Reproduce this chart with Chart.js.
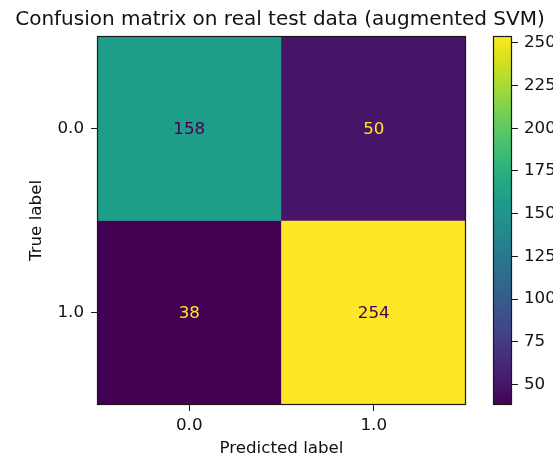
<!DOCTYPE html>
<html>
<head>
<meta charset="utf-8">
<script src="https://cdn.jsdelivr.net/npm/chart.js@4/dist/chart.umd.min.js"></script>
<style>
  html, body { margin: 0; padding: 0; background: #fff; overflow: hidden; }
  #wrap { position: relative; width: 553px; height: 461px; overflow: hidden; }
  #main { position: absolute; left: 0; top: 0; }
  #cbar { position: absolute; left: 470px; top: 0; }
</style>
</head>
<body>
<div id="wrap">
  <canvas id="main" width="560" height="461"></canvas>
  <canvas id="cbar" width="83" height="461"></canvas>
</div>
<script>
// Confusion matrix counts, rows = true label, columns = predicted label
const predictedLabels = ['0.0', '1.0'];
const trueLabels = ['0.0', '1.0'];
const rowTrue0 = [158, 50];
const rowTrue1 = [38, 254];
const colorbarTicks = [50, 75, 100, 125, 150, 175, 200, 225, 250];

const rows = [rowTrue0, rowTrue1];
const allValues = rows.flat();
const vmin = Math.min(...allValues);
const vmax = Math.max(...allValues);

// viridis colormap sampled every 0.05
const VIRIDIS = ['#440154','#471365','#482475','#463480','#414487','#3b528b','#355f8d','#2f6c8e',
  '#2a788e','#25848e','#21918c','#1e9c89','#22a884','#2fb47c','#44bf70','#5ec962','#7ad151',
  '#9bd93c','#bddf26','#dfe318','#fde725'];
function hexToRgb(h) { return [1, 3, 5].map(i => parseInt(h.slice(i, i + 2), 16)); }
function viridis(t) {
  t = Math.max(0, Math.min(1, t));
  const p = t * (VIRIDIS.length - 1);
  const i = Math.min(Math.floor(p), VIRIDIS.length - 2);
  const f = p - i;
  const a = hexToRgb(VIRIDIS[i]), b = hexToRgb(VIRIDIS[i + 1]);
  const c = a.map((v, k) => Math.round(v + (b[k] - v) * f));
  return `rgb(${c[0]},${c[1]},${c[2]})`;
}
const norm = v => (v - vmin) / (vmax - vmin);

Chart.defaults.font.family = "'DejaVu Sans', sans-serif";
Chart.defaults.color = '#111';

const FONT_SIZE = 16.7;
const tickFont = { size: FONT_SIZE };
const FRAME = '#1a1a1a';

// thin outline round the plotting area
const frame = {
  id: 'frame',
  afterDatasetsDraw(chart) {
    const { ctx, chartArea: a } = chart;
    ctx.save();
    ctx.strokeStyle = FRAME;
    ctx.lineWidth = 1.2;
    ctx.strokeRect(Math.round(a.left) + 0.5, Math.round(a.top) + 0.5,
                   Math.round(a.right - a.left) - 1, Math.round(a.bottom - a.top) - 1);
    ctx.restore();
  }
};

// count written in the middle of each cell
const cellText = {
  id: 'cellText',
  afterDatasetsDraw(chart) {
    const { ctx } = chart;
    const thresh = (vmin + vmax) / 2;
    ctx.save();
    ctx.font = `${FONT_SIZE}px 'DejaVu Sans'`;
    ctx.textAlign = 'center';
    ctx.textBaseline = 'middle';
    chart.data.datasets.forEach((ds, di) => {
      chart.getDatasetMeta(di).data.forEach((bar, j) => {
        const v = ds.counts[j];
        const c = bar.getCenterPoint();
        ctx.fillStyle = v > thresh ? viridis(0) : viridis(1);
        ctx.fillText(String(v), c.x, c.y + 1);
      });
    });
    ctx.restore();
  }
};

new Chart(document.getElementById('main'), {
  type: 'bar',
  data: {
    labels: predictedLabels,
    datasets: rows.map((vals, r) => ({
      counts: vals,
      data: vals.map(() => [r - 0.5, r + 0.5]),
      backgroundColor: vals.map(v => viridis(norm(v))),
      borderWidth: 0,
      grouped: false,
      barPercentage: 1,
      categoryPercentage: 1
    }))
  },
  options: {
    responsive: false,
    animation: false,
    devicePixelRatio: 1,
    layout: { padding: 0 },
    plugins: {
      legend: { display: false },
      tooltip: { enabled: false },
      title: {
        display: true,
        text: 'Confusion matrix on real test data (augmented SVM)',
        font: { size: 20, weight: 'normal' },
        color: '#111',
        padding: { top: 7.5, bottom: 4.5 }
      }
    },
    scales: {
      x: {
        type: 'category',
        offset: true,
        grid: { display: true, drawOnChartArea: false, offset: false, tickLength: 6, color: FRAME },
        border: { display: false },
        ticks: { font: tickFont, padding: 5, maxRotation: 0 },
        title: { display: true, text: 'Predicted label', font: tickFont, padding: { top: 0, bottom: 2 } },
        afterFit: s => { s.height = 56; }
      },
      y: {
        type: 'linear',
        min: -0.5,
        max: 1.5,
        reverse: true,
        afterBuildTicks: s => { s.ticks = trueLabels.map((_, i) => ({ value: i })); },
        grid: { display: true, drawOnChartArea: false, tickLength: 6, color: FRAME },
        border: { display: false },
        ticks: { font: tickFont, padding: 7, callback: v => trueLabels[v] },
        title: { display: true, text: 'True label', font: tickFont, padding: { top: 27, bottom: 0 } },
        afterFit: s => { s.width = 97; }
      },
      // empty right-hand strip that leaves room for the colour bar
      gutter: {
        type: 'linear',
        position: 'right',
        grid: { display: false },
        border: { display: false },
        ticks: { display: false },
        afterFit: s => { s.width = 94; }
      }
    }
  },
  plugins: [frame, cellText]
});

// colour bar spanning the data range
new Chart(document.getElementById('cbar'), {
  type: 'bar',
  data: {
    labels: [''],
    datasets: [{
      data: [[vmin, vmax]],
      backgroundColor: ctx => {
        const a = ctx.chart.chartArea;
        if (!a) return viridis(0.5);
        const g = ctx.chart.ctx.createLinearGradient(0, a.bottom, 0, a.top);
        for (let i = 0; i <= 40; i++) g.addColorStop(i / 40, viridis(i / 40));
        return g;
      },
      borderWidth: 0,
      barPercentage: 1,
      categoryPercentage: 1
    }]
  },
  options: {
    responsive: false,
    animation: false,
    devicePixelRatio: 1,
    layout: { padding: { left: 23, right: 0, top: 36, bottom: 56 } },
    plugins: { legend: { display: false }, tooltip: { enabled: false } },
    scales: {
      x: { display: false },
      y: {
        position: 'right',
        min: vmin,
        max: vmax,
        afterBuildTicks: s => { s.ticks = colorbarTicks.map(v => ({ value: v })); },
        grid: { display: true, drawOnChartArea: false, tickLength: 6, color: FRAME },
        border: { display: false },
        ticks: { font: tickFont, padding: 6 },
        afterFit: s => { s.width = 41; }
      }
    }
  },
  plugins: [frame]
});
</script>
</body>
</html>
